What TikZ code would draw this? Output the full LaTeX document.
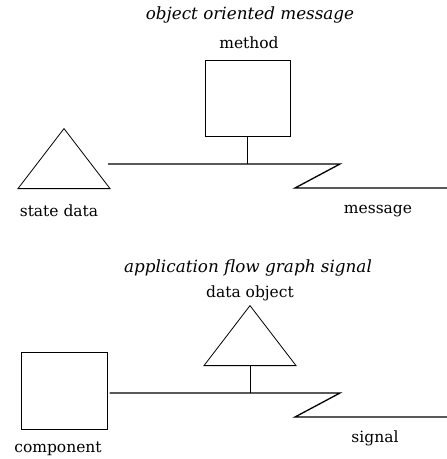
\documentclass[tikz,border=0pt]{standalone}
\usepackage{fontspec}
\setmainfont{DejaVu Serif}
\usetikzlibrary{shapes.geometric}

\begin{document}
\begin{tikzpicture}[x=1pt,y=-1pt,
	box_node/.style={draw,line width=1pt,minimum width=85pt,minimum height=76pt,inner sep=0pt},
	tri_node/.style={draw,isosceles triangle,isosceles triangle stretches,shape border rotate=90,minimum width=92pt,minimum height=60pt,inner sep=0pt,line width=0.8pt},
	label_text/.style={font=\fontsize{15.5}{18}\selectfont},
	title_text/.style={font=\fontsize{16.8}{19}\selectfont\itshape},
	wire/.style={line width=1.3pt},
	stub/.style={line width=0.7pt}]

		\useasboundingbox (0,0) rectangle (447,459);

		% object oriented message
		\node[title_text] (oo_title) at (250,15) {object oriented message};
		\node[label_text] (method_lbl) at (249,43) {method};
		\node[box_node] (method) at (247.5,98) {};
		\node[tri_node,anchor=south] (state) at (64,189) {};
		\node[label_text] (state_lbl) at (59,211) {state data};
		\node[label_text] (msg_lbl) at (378,211) {message};

		\coordinate (m_start) at (108,164);
		\coordinate (m_bend) at (340,164);
		\coordinate (m_low) at (295,188);
		\coordinate (m_end) at (447,188);

		\draw[wire] (m_start) -- (m_bend) -- (m_low) -- (m_end);
		\draw[stub] (method.south) -- (method.south |- m_start);

		% application flow graph signal
		\node[title_text] (af_title) at (248,268) {application flow graph signal};
		\node[label_text] (dobj_lbl) at (250,293) {data object};
		\node[tri_node,anchor=south] (dobj) at (250,366) {};
		\node[box_node,minimum width=86pt,minimum height=77pt] (comp) at (64,390.5) {};
		\node[label_text] (comp_lbl) at (58,449) {component};
		\node[label_text] (sig_lbl) at (375,438) {signal};

		\coordinate (s_bend) at (340,393);
		\coordinate (s_low) at (295,417);
		\coordinate (s_end) at (447,417);

		\draw[wire] (comp.east |- s_bend) ++(2,0) coordinate (s_start) -- (s_bend) -- (s_low) -- (s_end);
		\draw[stub] (dobj.south) -- (dobj.south |- s_bend);
		\end{tikzpicture}
\end{document}
